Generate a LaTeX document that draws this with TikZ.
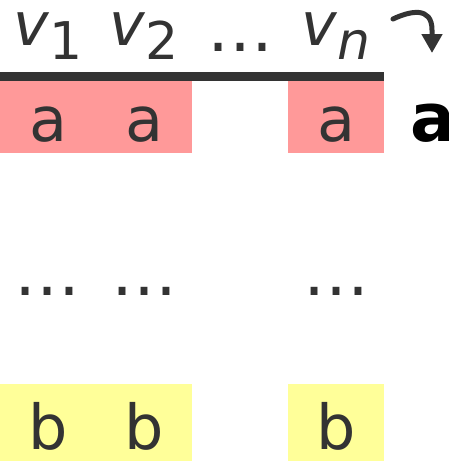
\documentclass[tikz,border=0pt]{standalone}
\usepackage{fontspec}
\setmainfont{DejaVu Sans}
\usetikzlibrary{arrows.meta}
\definecolor{ink}{HTML}{333333}
\definecolor{cellred}{HTML}{FF9999}
\definecolor{cellyellow}{HTML}{FFFF99}
\tikzset{
  cellbox/.style={rectangle, inner sep=0pt, minimum width=96pt, minimum height=#1, draw=none},
  redcell/.style={cellbox=72pt, fill=cellred},
  yellowcell/.style={cellbox=77pt, fill=cellyellow},
  letter/.style={anchor=base, inner sep=0pt, text=ink, font=\fontsize{62}{62}\selectfont},
  dotsrow/.style={anchor=base, inner sep=0pt, text=ink, font=\fontsize{66}{66}\selectfont},
  varlabel/.style={anchor=base, inner sep=0pt, text=ink},
  boldlabel/.style={anchor=base west, inner sep=0pt, text=black, font=\fontsize{67}{67}\selectfont\bfseries},
  curlarrow/.style={draw=ink, line width=5pt, line cap=round,
    -{Triangle[width=20pt,length=19pt]}},
}
\newcommand{\varsub}[1]{{\fontsize{60}{60}\selectfont\itshape v}{\fontsize{52}{52}\selectfont\raisebox{-14pt}{#1}}}
\begin{document}
\begin{tikzpicture}[x=1pt, y=-1pt]
  \useasboundingbox (0,0) rectangle (449,461);

  % column labels
  \node[varlabel] (v1) at (48,45) {\varsub{1}};
  \node[varlabel] (v2) at (144,45) {\varsub{2}};
  \node[dotsrow] (vdots) at (240,51) {…};
  \node[varlabel] (vn) at (336,45) {\varsub{\itshape n}};

  % curved arrow
  \coordinate (arrstart) at (393,19);
  \coordinate (arrend) at (432,53);
  \draw[curlarrow] (arrstart) .. controls (410,11) and (432,6) .. (432,30) -- (arrend);

  % header bar
  \fill[ink] (0,72) rectangle (384,81);

  % first row
  \node[redcell] (a1) at (48,117) {};
  \node[redcell] (a2) at (144,117) {};
  \node[redcell] (an) at (336,117) {};
  \node[letter] (ta1) at (48,141) {a};
  \node[letter] (ta2) at (144,141) {a};
  \node[letter] (tan) at (336,141) {a};
  \node[boldlabel] (result) at (410,141) {a};

  % middle rows
  \node[dotsrow] (d1) at (48,295) {…};
  \node[dotsrow] (d2) at (144,295) {…};
  \node[dotsrow] (dn) at (336,295) {…};

  % last row
  \node[yellowcell] (b1) at (48,422.5) {};
  \node[yellowcell] (b2) at (144,422.5) {};
  \node[yellowcell] (bn) at (336,422.5) {};
  \node[letter] (tb1) at (48,449) {b};
  \node[letter] (tb2) at (144,449) {b};
  \node[letter] (tbn) at (336,449) {b};
\end{tikzpicture}
\end{document}
